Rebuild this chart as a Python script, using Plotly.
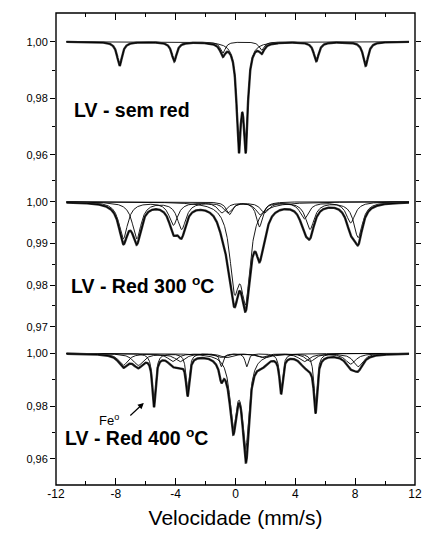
import numpy as np
import plotly.graph_objects as go

# ---------------- data ----------------
# velocity window covered by the measured spectra (mm/s)
V_MIN, V_MAX = -11.3, 11.6

# Panel 1: "LV - sem red"
P1_HEM_POS = [-7.75, -4.10, -0.85, 1.75, 5.40, 8.70]
P1_HEM_DEPTH = [0.0085, 0.0068, 0.0040, 0.0030, 0.0068, 0.0085]
P1_HEM_HWHM = 0.20
P1_DBL_POS = [0.22, 0.68]
P1_DBL_DEPTH = [0.035, 0.035]
P1_DBL_HWHM = 0.17

# Panel 2: "LV - Red 300 °C"
P2_SXA_POS = [-7.50, -4.15, -0.90, 1.65, 4.98, 8.20]
P2_SXA_DEPTH = [0.0088, 0.0055, 0.0025, 0.0030, 0.0065, 0.0085]
P2_SXA_HWHM = 0.35
P2_SXB_POS = [-6.60, -3.60, -0.50, 1.95, 4.60, 7.70]
P2_SXB_DEPTH = [0.0088, 0.0065, 0.0025, 0.0025, 0.0040, 0.0050]
P2_SXB_HWHM = 0.35
P2_DBL_POS = [-0.07, 0.68]
P2_DBL_DEPTH = [0.018, 0.021]
P2_DBL_HWHM = 0.38
P2_DB2_POS = [-0.40, 1.60]
P2_DB2_DEPTH = [0.003, 0.006]
P2_DB2_HWHM = 0.25

# Panel 3: "LV - Red 400 °C"
P3_FE_POS = [-5.45, -3.20, -0.95, 0.75, 3.05, 5.35]
P3_FE_DEPTH = [0.019, 0.014, 0.005, 0.005, 0.014, 0.020]
P3_FE_HWHM = 0.13
P3_M1_POS = [-7.50, -4.20, -1.00, 1.70, 5.00, 8.20]
P3_M1_DEPTH = [0.0045, 0.003, 0.0015, 0.0015, 0.003, 0.005]
P3_M1_HWHM = 0.38
P3_M2_POS = [-6.50, -3.70, -0.60, 1.90, 4.60, 7.70]
P3_M2_DEPTH = [0.0045, 0.003, 0.0015, 0.0015, 0.003, 0.004]
P3_M2_HWHM = 0.42
P3_DBL_POS = [-0.15, 0.68]
P3_DBL_DEPTH = [0.026, 0.034]
P3_DBL_HWHM = 0.27

# axis ticks
X_TICKS = [-12, -8, -4, 0, 4, 8, 12]
X_TICK_TEXT = ["-12", "-8", "-4", "0", "4", "8", "12"]
Y1_TICKS = [0.96, 0.98, 1.00]
Y1_MINOR = [0.97, 0.99]
Y2_TICKS = [0.97, 0.98, 0.99, 1.00]
Y2_MINOR = [0.975, 0.985, 0.995, 1.005]
Y3_TICKS = [0.96, 0.98, 1.00]
Y3_MINOR = [0.97, 0.99]

LABEL1 = "LV - sem red"
LABEL2 = "LV - Red 300 <sup>o</sup>C"
LABEL3 = "LV - Red 400 <sup>o</sup>C"
FE_LABEL = "Fe<sup>o</sup>"
X_TITLE = "Velocidade (mm/s)"

# ---------------- build figure ----------------
v = np.linspace(V_MIN, V_MAX, 1500)


def absorption(pos, depth, hwhm):
    a = np.zeros_like(v)
    for p, d in zip(pos, depth):
        a += d * hwhm ** 2 / ((v - p) ** 2 + hwhm ** 2)
    return a


panels = [
    ("x", "y", [(P1_HEM_POS, P1_HEM_DEPTH, P1_HEM_HWHM),
                (P1_DBL_POS, P1_DBL_DEPTH, P1_DBL_HWHM)]),
    ("x2", "y2", [(P2_SXA_POS, P2_SXA_DEPTH, P2_SXA_HWHM),
                  (P2_SXB_POS, P2_SXB_DEPTH, P2_SXB_HWHM),
                  (P2_DBL_POS, P2_DBL_DEPTH, P2_DBL_HWHM),
                  (P2_DB2_POS, P2_DB2_DEPTH, P2_DB2_HWHM)]),
    ("x3", "y3", [(P3_FE_POS, P3_FE_DEPTH, P3_FE_HWHM),
                  (P3_M1_POS, P3_M1_DEPTH, P3_M1_HWHM),
                  (P3_M2_POS, P3_M2_DEPTH, P3_M2_HWHM),
                  (P3_DBL_POS, P3_DBL_DEPTH, P3_DBL_HWHM)]),
]

fig = go.Figure()
for xa, ya, comps in panels:
    total = np.zeros_like(v)
    for pos, dep, w in comps:
        a = absorption(pos, dep, w)
        total += a
        fig.add_trace(go.Scatter(x=v, y=1 - a, mode="lines", xaxis=xa, yaxis=ya,
                                 line=dict(color="black", width=0.9),
                                 showlegend=False, hoverinfo="skip"))
    # measured points band + fitted envelope
    fig.add_trace(go.Scatter(x=v, y=1 - total, mode="lines", xaxis=xa, yaxis=ya,
                             line=dict(color="#333333", width=2.4),
                             showlegend=False, hoverinfo="skip"))
    fig.add_trace(go.Scatter(x=v, y=1 - total, mode="lines", xaxis=xa, yaxis=ya,
                             line=dict(color="black", width=1.0),
                             showlegend=False, hoverinfo="skip"))

FONT = "Arial, Liberation Sans, sans-serif"
tickfont = dict(family=FONT, size=11, color="black")

xcommon = dict(range=[-12, 12], tickvals=X_TICKS, ticktext=X_TICK_TEXT,
               ticks="inside", ticklen=7,
               tickwidth=1, tickcolor="black", showgrid=False, zeroline=False,
               showline=False, automargin=False,
               minor=dict(dtick=2, tick0=0, ticks="inside",
                          ticklen=4, tickcolor="black"))

ycommon = dict(ticks="outside", ticklen=5, tickwidth=1, tickcolor="black",
               showgrid=False, zeroline=False, showline=False, mirror="ticks",
               tickformat=".2f", tickfont=tickfont, automargin=False)

fig.update_layout(
    width=424, height=542,
    margin=dict(l=56, r=9, t=13, b=57, autoexpand=False),
    paper_bgcolor="white", plot_bgcolor="white",
    separators=",.",
    font=dict(family=FONT, color="black"),
    xaxis=dict(**xcommon, anchor="y", side="top", showticklabels=False),
    xaxis2=dict(range=[-12, 12], anchor="y2", visible=False, matches="x",
                automargin=False),
    xaxis3=dict(**xcommon, anchor="y3", matches="x", showticklabels=True,
                ticklabeloverflow="allow",
                tickfont=dict(family=FONT, size=12, color="black"),
                title=dict(text=X_TITLE, font=dict(family=FONT, size=21, color="black"),
                           standoff=10)),
    yaxis=dict(**ycommon, domain=[0.6532, 1.0], range=[0.95230, 1.01014],
               tickvals=Y1_TICKS,
               minor=dict(tickvals=Y1_MINOR, ticks="outside", ticklen=3, tickcolor="black")),
    yaxis2=dict(**ycommon, domain=[0.3093, 0.6532], range=[0.96707, 1.0060],
                tickvals=Y2_TICKS,
                minor=dict(tickvals=Y2_MINOR, ticks="outside", ticklen=3, tickcolor="black")),
    yaxis3=dict(**ycommon, domain=[0.0, 0.3093], range=[0.95011, 1.00542],
                tickvals=Y3_TICKS,
                minor=dict(tickvals=Y3_MINOR, ticks="outside", ticklen=3, tickcolor="black")),
)

fig.add_shape(type="rect", xref="paper", yref="paper", x0=0, x1=1, y0=0, y1=1,
              line=dict(color="black", width=1.4))

lab_font = dict(family=FONT, size=19.5, color="black")
fig.add_annotation(x=-10.9, y=0.9759, xref="x", yref="y", text="<b>" + LABEL1 + "</b>",
                   showarrow=False, xanchor="left", yanchor="middle", font=lab_font)
fig.add_annotation(x=-11.1, y=0.9800, xref="x2", yref="y2", text="<b>" + LABEL2 + "</b>",
                   showarrow=False, xanchor="left", yanchor="middle", font=lab_font)
fig.add_annotation(x=-11.55, y=0.9684, xref="x3", yref="y3", text="<b>" + LABEL3 + "</b>",
                   showarrow=False, xanchor="left", yanchor="middle", font=lab_font)
fig.add_annotation(x=-8.45, y=0.9747, xref="x3", yref="y3", text=FE_LABEL,
                   showarrow=False, xanchor="center", yanchor="middle",
                   font=dict(family=FONT, size=13, color="black"))
fig.add_annotation(x=-6.13, y=0.9812, ax=-7.13, ay=0.9759, xref="x3", yref="y3",
                   axref="x3", ayref="y3", text="", showarrow=True, arrowhead=2,
                   arrowsize=1, arrowwidth=1.2, arrowcolor="black")

fig.write_html("out.html", config={"displayModeBar": False},
               post_script="document.body.style.margin='0';")
